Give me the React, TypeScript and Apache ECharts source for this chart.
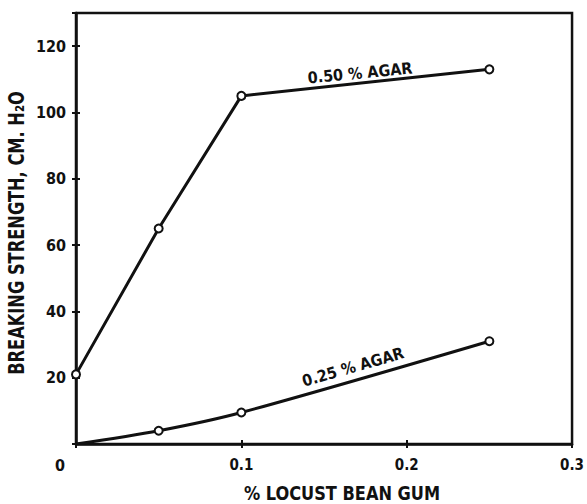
import React, { useEffect, useRef } from "react";
import * as echarts from "echarts";

// % locust bean gum on the x axis, breaking strength (cm H2O) on the y axis
const agar50X = [0, 0.05, 0.1, 0.25];
const agar50Y = [21, 65, 105, 113];
const agar25X = [0, 0.05, 0.1, 0.25];
const agar25Y = [0, 4, 9.5, 31];

const xTicks = [0, 0.1, 0.2, 0.3];
const yTicks = [20, 40, 60, 80, 100, 120];

const INK = "#111";
const FONT = "'DejaVu Sans Condensed', 'DejaVu Sans', sans-serif";

export default function App() {
  const ref = useRef<HTMLDivElement>(null);

  useEffect(() => {
    if (!ref.current) return;
    const chart = echarts.init(ref.current, undefined, { renderer: "svg" });

    const pts = (xs: number[], ys: number[], skipOrigin: boolean) =>
      xs.map((x, i) =>
        skipOrigin && x === 0 && ys[i] === 0
          ? { value: [x, ys[i]], symbol: "none" }
          : { value: [x, ys[i]] }
      );

    const xBase = {
      type: "value" as const,
      min: 0,
      max: 0.3,
      interval: 0.1,
      position: "bottom" as const,
      splitLine: { show: false },
    };
    const yBase = {
      type: "value" as const,
      min: 0,
      max: 130,
      interval: 20,
      position: "left" as const,
      splitLine: { show: false },
    };

    const lineSeries = (name: string, data: any[], smooth: number | boolean) => ({
      name,
      type: "line",
      data,
      smooth,
      symbol: "circle",
      symbolSize: 8,
      lineStyle: { color: INK, width: 3 },
      itemStyle: { color: "#fff", borderColor: INK, borderWidth: 2 },
      z: 3,
    });

    chart.setOption({
      animation: false,
      backgroundColor: "#fff",
      grid: {
        left: 76,
        right: 14,
        top: 13,
        bottom: 60,
        show: true,
        borderColor: INK,
        borderWidth: 2.5,
      },
      xAxis: [
        {
          ...xBase,
          axisLine: { show: true, lineStyle: { color: INK, width: 2.5 } },
          axisTick: { show: true, inside: true, length: 4, lineStyle: { color: INK, width: 2 } },
          axisLabel: {
            color: INK,
            fontFamily: FONT,
            fontWeight: "bold",
            fontSize: 15,
            margin: 13,
            formatter: (v: number) => {
              const t = xTicks.find((k) => Math.abs(k - v) < 1e-9);
              if (t === undefined) return "";
              return t === 0 ? "{z|0}" : t.toFixed(1);
            },
            rich: {
              z: {
                fontFamily: FONT,
                fontWeight: "bold",
                fontSize: 16,
                color: INK,
                padding: [0, 32, 0, 0],
              },
            },
          },
        },
        {
          ...xBase,
          axisLine: { show: false },
          axisTick: { show: true, inside: false, length: 4, lineStyle: { color: INK, width: 2 } },
          axisLabel: { show: false },
        },
      ],
      yAxis: [
        {
          ...yBase,
          axisLine: { show: true, lineStyle: { color: INK, width: 2.5 } },
          axisTick: { show: true, inside: true, length: 4, lineStyle: { color: INK, width: 2 } },
          axisLabel: {
            color: INK,
            fontFamily: FONT,
            fontWeight: "bold",
            fontSize: 16,
            margin: 10,
            formatter: (v: number) => (yTicks.includes(v) ? String(v) : ""),
          },
        },
        {
          ...yBase,
          axisLine: { show: false },
          axisTick: { show: true, inside: false, length: 4, lineStyle: { color: INK, width: 2 } },
          axisLabel: { show: false },
        },
      ],
      series: [
        lineSeries("0.50 % AGAR", pts(agar50X, agar50Y, false), false),
        lineSeries("0.25 % AGAR", pts(agar25X, agar25Y, true), 0.3),
      ],
      graphic: [
        {
          type: "text",
          x: 17,
          y: 233,
          rotation: Math.PI / 2,
          scaleX: 0.86,
          style: {
            text: "BREAKING STRENGTH, CM. H₂O",
            font: `bold 21px ${FONT}`,
            fill: INK,
            textAlign: "center",
            textVerticalAlign: "middle",
          },
        },
        {
          type: "text",
          x: 342,
          y: 493,
          scaleX: 0.9,
          style: {
            text: "% LOCUST BEAN GUM",
            font: `bold 20px ${FONT}`,
            fill: INK,
            textAlign: "center",
            textVerticalAlign: "middle",
          },
        },
        {
          type: "text",
          x: 360,
          y: 73,
          rotation: (5.5 * Math.PI) / 180,
          style: {
            text: "0.50 % AGAR",
            font: `bold 16px ${FONT}`,
            fill: INK,
            textAlign: "center",
            textVerticalAlign: "middle",
          },
        },
        {
          type: "text",
          x: 353,
          y: 367,
          rotation: (16 * Math.PI) / 180,
          style: {
            text: "0.25 % AGAR",
            font: `bold 16px ${FONT}`,
            fill: INK,
            textAlign: "center",
            textVerticalAlign: "middle",
          },
        },
      ],
    });

    return () => chart.dispose();
  }, []);

  return <div ref={ref} style={{ width: 587, height: 504, position: "absolute", left: 0, top: 0 }} />;
}
